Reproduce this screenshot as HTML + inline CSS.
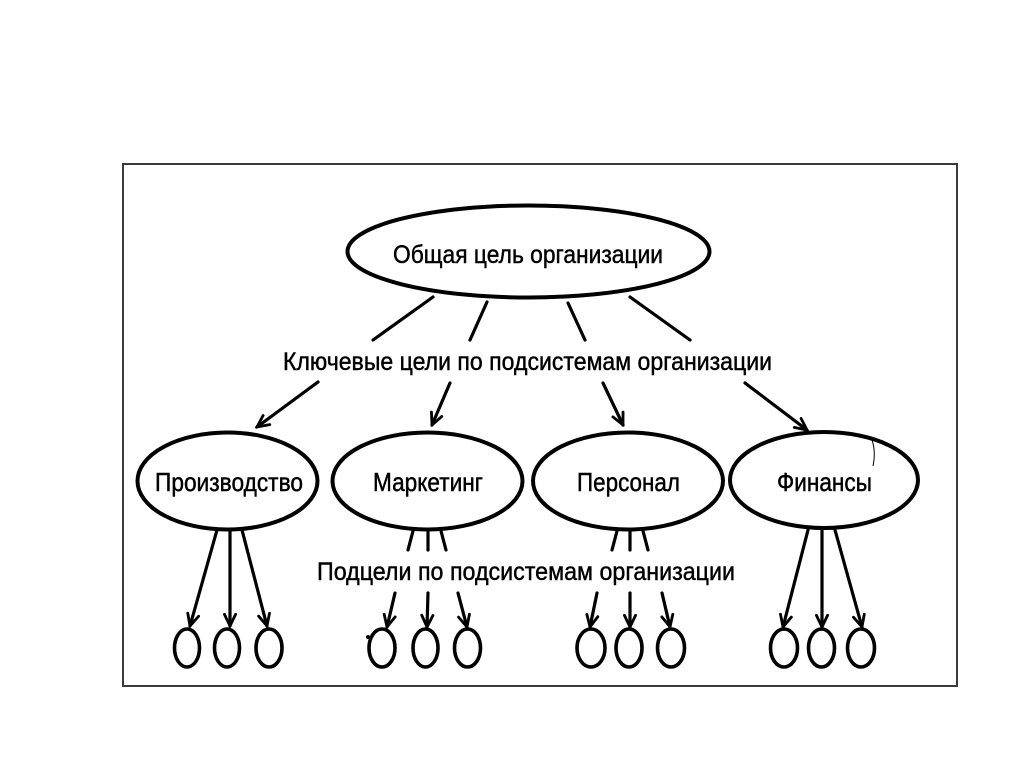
<!DOCTYPE html>
<html>
<head>
<meta charset="utf-8">
<style>
  html, body { margin:0; padding:0; background:#fff; }
  body { width:1024px; height:767px; overflow:hidden; }
  svg { display:block; }
  text { font-family: "Liberation Sans", "DejaVu Sans", sans-serif; fill:#000; stroke:#000; stroke-width:0.45; }
</style>
</head>
<body>
<svg width="1024" height="767" viewBox="0 0 1024 767" xmlns="http://www.w3.org/2000/svg">
  <defs>
    <marker id="ah" viewBox="0 0 16 16" refX="14" refY="8" markerWidth="15" markerHeight="15" markerUnits="userSpaceOnUse" orient="auto">
      <path d="M1.5,2 L14,8 L1.5,14" fill="none" stroke="#000" stroke-width="3" stroke-linecap="round" stroke-linejoin="miter"/>
    </marker>
  </defs>
  <rect x="0" y="0" width="1024" height="767" fill="#fff"/>

  <!-- frame -->
  <rect x="123" y="164" width="834" height="522" fill="none" stroke="#3a3a3a" stroke-width="2"/>

  <!-- main ellipse -->
  <ellipse cx="528.5" cy="251.5" rx="181" ry="46" fill="none" stroke="#000" stroke-width="4"/>
  <text x="393" y="263" font-size="25" textLength="270" lengthAdjust="spacingAndGlyphs">Общая цель организации</text>

  <!-- lines from main ellipse -->
  <g stroke="#000" stroke-width="3.2" stroke-linecap="round" fill="none">
    <line x1="433" y1="297" x2="373" y2="340"/>
    <line x1="487" y1="302" x2="470" y2="340"/>
    <line x1="568" y1="303" x2="585" y2="340"/>
    <line x1="630" y1="297" x2="690" y2="340"/>
  </g>

  <text x="283" y="370" font-size="25" textLength="489" lengthAdjust="spacingAndGlyphs">Ключевые цели по подсистемам организации</text>

  <!-- arrows to second level -->
  <g stroke="#000" stroke-width="3.2" stroke-linecap="round" fill="none" marker-end="url(#ah)">
    <line x1="318" y1="382" x2="257" y2="427"/>
    <line x1="450" y1="383" x2="432" y2="425"/>
    <line x1="603" y1="383" x2="623" y2="425"/>
    <line x1="745" y1="383" x2="807" y2="430"/>
  </g>

  <!-- second-level ellipses -->
  <g fill="none" stroke="#000" stroke-width="4">
    <ellipse cx="227.5" cy="481" rx="90" ry="48.5"/>
    <ellipse cx="427.5" cy="481" rx="95" ry="48.5"/>
    <ellipse cx="628" cy="481" rx="95" ry="48.5"/>
    <ellipse cx="824" cy="480" rx="94" ry="48"/>
  </g>
  <text x="155" y="491" font-size="26" textLength="148" lengthAdjust="spacingAndGlyphs">Производство</text>
  <text x="373" y="491" font-size="26" textLength="110" lengthAdjust="spacingAndGlyphs">Маркетинг</text>
  <text x="577" y="491" font-size="26" textLength="103" lengthAdjust="spacingAndGlyphs">Персонал</text>
  <text x="777" y="491" font-size="26" textLength="95" lengthAdjust="spacingAndGlyphs">Финансы</text>

  <!-- small mark on Финансы -->
  <path d="M872,440 Q876,452 873,466" fill="none" stroke="#000" stroke-width="1"/>

  <!-- short lines from Маркетинг and Персонал -->
  <g stroke="#000" stroke-width="3.2" stroke-linecap="round" fill="none">
    <line x1="413" y1="531" x2="408" y2="550"/>
    <line x1="428" y1="531" x2="428" y2="550"/>
    <line x1="441" y1="531" x2="446" y2="550"/>
    <line x1="617" y1="531" x2="612" y2="550"/>
    <line x1="630" y1="531" x2="630" y2="550"/>
    <line x1="643" y1="531" x2="648" y2="550"/>
  </g>

  <text x="317" y="580" font-size="25" textLength="418" lengthAdjust="spacingAndGlyphs">Подцели по подсистемам организации</text>

  <!-- arrows to sub-goals -->
  <g stroke="#000" stroke-width="3.2" stroke-linecap="round" fill="none" marker-end="url(#ah)">
    <!-- Производство -->
    <line x1="217" y1="530" x2="190" y2="626"/>
    <line x1="230" y1="530" x2="230" y2="626"/>
    <line x1="242" y1="530" x2="267" y2="626"/>
    <!-- Маркетинг -->
    <line x1="395" y1="593" x2="387" y2="627"/>
    <line x1="428" y1="593" x2="427" y2="627"/>
    <line x1="458" y1="593" x2="467" y2="627"/>
    <!-- Персонал -->
    <line x1="597" y1="593" x2="590" y2="627"/>
    <line x1="630" y1="593" x2="630" y2="627"/>
    <line x1="662" y1="593" x2="670" y2="627"/>
    <!-- Финансы -->
    <line x1="808" y1="530" x2="783" y2="627"/>
    <line x1="822" y1="530" x2="822" y2="627"/>
    <line x1="835" y1="530" x2="862" y2="627"/>
  </g>

  <!-- sub-goal circles -->
  <g fill="none" stroke="#000" stroke-width="3.6">
    <ellipse cx="187" cy="648" rx="12.5" ry="19"/>
    <ellipse cx="227" cy="648" rx="12.5" ry="19"/>
    <ellipse cx="269" cy="648" rx="13" ry="19"/>

    <ellipse cx="382" cy="648" rx="13" ry="19"/>
    <ellipse cx="425.5" cy="648" rx="12.5" ry="19"/>
    <ellipse cx="467.5" cy="648" rx="13" ry="19"/>

    <ellipse cx="591" cy="648" rx="14" ry="19"/>
    <ellipse cx="629" cy="648" rx="13" ry="19"/>
    <ellipse cx="671" cy="648" rx="13.5" ry="19"/>

    <ellipse cx="784" cy="648" rx="13.5" ry="19"/>
    <ellipse cx="821.5" cy="648" rx="13" ry="19"/>
    <ellipse cx="861" cy="648" rx="13.5" ry="19"/>
  </g>
  <circle cx="368" cy="637" r="2" fill="#000"/>
</svg>
</body>
</html>
